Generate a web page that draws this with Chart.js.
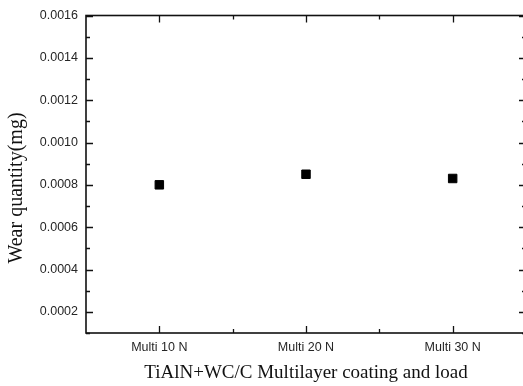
<!DOCTYPE html>
<html>
<head>
<meta charset="utf-8">
<script src="https://cdn.jsdelivr.net/npm/chart.js@4"></script>
<style>
  html, body { margin: 0; padding: 0; background: #fff; overflow: hidden; }
  #wrap { width: 526px; height: 386px; }
</style>
</head>
<body>
<div id="wrap"><canvas id="wearChart"></canvas></div>
<script>
// wear data per load
const categories = ['Multi 10 N', 'Multi 20 N', 'Multi 30 N'];
const wear = [0.00080, 0.00085, 0.00083];
const yTicks = [0.0002, 0.0004, 0.0006, 0.0008, 0.0010, 0.0012, 0.0014, 0.0016];
const yMinor = [0.0001, 0.0003, 0.0005, 0.0007, 0.0009, 0.0011, 0.0013, 0.0015];
const xMinor = [1.5, 2.5];

const yTitle = 'Wear quantity(mg)';
const xTitle = 'TiAlN+WC/C Multilayer coating and load';

// box around the plot with inward ticks on every side
const frameTicks = {
  id: 'frameTicks',
  afterDraw(chart) {
    const { ctx, chartArea: a, scales: { x, y } } = chart;
    const major = 7, minor = 4;
    ctx.save();
    ctx.strokeStyle = '#111';
    ctx.lineWidth = 1.6;
    ctx.strokeRect(a.left, a.top, a.right - a.left, a.bottom - a.top);
    ctx.lineWidth = 1.3;
    ctx.beginPath();
    const yTick = (v, len) => {
      const py = Math.round(y.getPixelForValue(v)) + 0.5;
      ctx.moveTo(a.left, py); ctx.lineTo(a.left + len, py);
      ctx.moveTo(a.right, py); ctx.lineTo(a.right - len, py);
    };
    const xTick = (v, len) => {
      const px = Math.round(x.getPixelForValue(v)) + 0.5;
      ctx.moveTo(px, a.bottom); ctx.lineTo(px, a.bottom - len);
      ctx.moveTo(px, a.top); ctx.lineTo(px, a.top + len);
    };
    yTicks.forEach(v => yTick(v, major));
    yMinor.forEach(v => yTick(v, minor));
    categories.forEach((c, i) => xTick(i + 1, major));
    xMinor.forEach(v => xTick(v, minor));
    ctx.stroke();

    // y title, set a little below the middle of the axis
    ctx.fillStyle = '#111';
    ctx.font = '20px "Liberation Serif"';
    ctx.textAlign = 'center';
    ctx.textBaseline = 'middle';
    ctx.translate(17, 188);
    ctx.rotate(-Math.PI / 2);
    ctx.fillText(yTitle, 0, 0);
    ctx.restore();
  }
};

const tickFont = { family: 'Liberation Sans', size: 12.5 };

new Chart(document.getElementById('wearChart'), {
  type: 'scatter',
  data: {
    datasets: [{
      data: wear.map((v, i) => ({ x: i + 1, y: v })),
      pointStyle: 'rect',
      pointRadius: 6,
      pointBackgroundColor: '#000',
      pointBorderColor: '#000',
      pointBorderWidth: 1
    }]
  },
  options: {
    responsive: true,
    maintainAspectRatio: false,
    animation: false,
    layout: { autoPadding: false, padding: { top: 12, left: 0, right: 0, bottom: 0 } },
    plugins: { legend: { display: false }, tooltip: { enabled: false } },
    scales: {
      x: {
        type: 'linear',
        min: 0.5,
        max: 3.5,
        afterBuildTicks: s => { s.ticks = categories.map((c, i) => ({ value: i + 1 })); },
        afterFit: s => { s.height = 53; },
        grid: { display: false, drawTicks: false },
        border: { display: false },
        ticks: {
          autoSkip: false,
          maxRotation: 0,
          padding: 7,
          color: '#262626',
          font: tickFont,
          callback: v => categories[Math.round(v) - 1] || ''
        },
        title: {
          display: true,
          text: xTitle,
          color: '#111',
          font: { family: 'Liberation Serif', size: 19 },
          padding: { top: 0, bottom: 2 }
        }
      },
      y: {
        min: 0.0001,
        max: 0.0016,
        afterBuildTicks: s => { s.ticks = yTicks.map(v => ({ value: v })); },
        afterFit: s => { s.width = 86; },
        grid: { display: false, drawTicks: false },
        border: { display: false },
        ticks: {
          padding: 8,
          color: '#262626',
          font: tickFont,
          callback: v => v.toFixed(4)
        }
      }
    }
  },
  plugins: [frameTicks]
});
</script>
</body>
</html>
